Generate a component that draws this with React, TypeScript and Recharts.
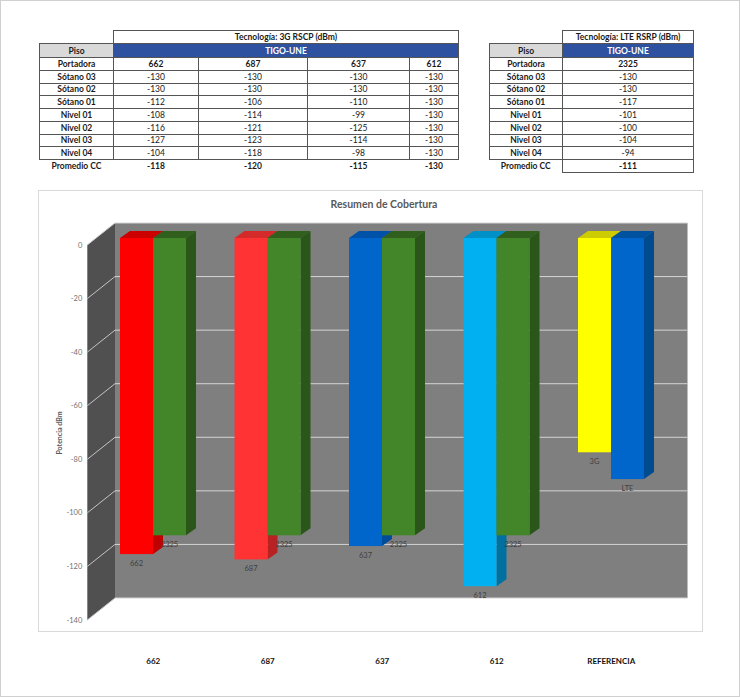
import React from 'react';
import { BarChart, Bar, XAxis, YAxis, ReferenceArea } from 'recharts';

// ---------- table data ----------
const pisos = ['Sótano 03', 'Sótano 02', 'Sótano 01', 'Nivel 01', 'Nivel 02', 'Nivel 03', 'Nivel 04'];
const portadoras3G = ['662', '687', '637', '612'];
const rscp662 = [-130, -130, -112, -108, -116, -127, -104];
const rscp687 = [-130, -130, -106, -114, -121, -123, -118];
const rscp637 = [-130, -130, -110, -99, -125, -114, -98];
const rscp612 = [-130, -130, -130, -130, -130, -130, -130];
const promedio3G = [-118, -120, -115, -130];
const portadorasLTE = ['2325'];
const rsrp2325 = [-130, -130, -117, -101, -100, -104, -94];
const promedioLTE = [-111];

// ---------- chart data ----------
const categories = ['662', '687', '637', '612', 'REFERENCIA'];
const serie3G = [-118, -120, -115, -130, -80];
const serieLTE = [-111, -111, -111, -111, -90];
const labels3G = ['662', '687', '637', '612', '3G'];
const labelsLTE = ['2325', '2325', '2325', '2325', 'LTE'];
const yTicks = [0, -20, -40, -60, -80, -100, -120, -140];
const Y_MIN = -140;
const Y_MAX = 0;

const chartData = categories.map((c, i) => ({ cat: c, g3: serie3G[i], lte: serieLTE[i] }));

// ---------- styles ----------
const front3G = ['#ff0000', '#ff3333', '#0066cc', '#00b0f0', '#ffff00'];
const top3G = ['#cc0000', '#d42a2a', '#0052a8', '#0090c8', '#cccc00'];
const side3G = ['#bf0000', '#b82222', '#004c99', '#0070a0', '#bfbf00'];
const frontLTE = ['#43862a', '#43862a', '#43862a', '#43862a', '#0066cc'];
const topLTE = ['#305f1e', '#305f1e', '#305f1e', '#305f1e', '#00529f'];
const sideLTE = ['#2b561a', '#2b561a', '#2b561a', '#2b561a', '#004a8f'];

const FONT = "Lato, 'Liberation Sans', sans-serif";
const BACK_DX = 19;
const BACK_DY = -15;
const FRONT_DX = -8.7;
const FRONT_DY = 7;
const DEPTH_X = 10;
const DEPTH_Y = 7;

function Walls(props: any) {
  const { x, y, width, height } = props;
  const bx = x + BACK_DX;
  const by = y + BACK_DY;
  const fx = x + FRONT_DX;
  const fy = y + FRONT_DY;
  return (
    <g>
      <rect x={bx} y={by} width={width} height={height} fill="#7f7f7f" />
      <polygon
        points={`${fx},${fy} ${bx},${by} ${bx},${by + height} ${fx},${fy + height}`}
        fill="#505050"
      />
      {yTicks.map((t) => {
        const off = (height * (Y_MAX - t)) / (Y_MAX - Y_MIN);
        return (
          <g key={t}>
            <line x1={fx} y1={fy + off} x2={bx} y2={by + off} stroke="#c4c4c4" strokeWidth={1} />
            <line x1={bx} y1={by + off} x2={bx + width} y2={by + off} stroke="#d4d4d4" strokeWidth={1} />
          </g>
        );
      })}
    </g>
  );
}

function make3DBar(front: string[], top: string[], side: string[], labels: string[]) {
  return (props: any) => {
    const { x, y, width, height, index } = props;
    const t = Math.min(y, y + height);
    const h = Math.abs(height);
    const b = t + h;
    const r = x + width;
    return (
      <g>
        <polygon
          points={`${x},${t} ${x + DEPTH_X},${t - DEPTH_Y} ${r + DEPTH_X},${t - DEPTH_Y} ${r},${t}`}
          fill={top[index]}
        />
        <polygon
          points={`${r},${t} ${r + DEPTH_X},${t - DEPTH_Y} ${r + DEPTH_X},${b - DEPTH_Y} ${r},${b}`}
          fill={side[index]}
        />
        <rect x={x} y={t} width={width} height={h} fill={front[index]} />
        <text
          x={x + width / 2}
          y={b + 9}
          textAnchor="middle"
          dominantBaseline="central"
          fontSize={7.5}
          fontFamily={FONT}
          fill="#404040"
        >
          {labels[index]}
        </text>
      </g>
    );
  };
}

const Bar3G = make3DBar(front3G, top3G, side3G, labels3G);
const BarLTE = make3DBar(frontLTE, topLTE, sideLTE, labelsLTE);

function YTick(props: any) {
  const { x, y, payload } = props;
  return (
    <text
      x={x + FRONT_DX - 5}
      y={y + FRONT_DY}
      textAnchor="end"
      dominantBaseline="central"
      fontSize={7.5}
      fontFamily={FONT}
      fill="#737373"
    >
      {payload.value}
    </text>
  );
}

function XTick(props: any) {
  const { x, y, payload } = props;
  return (
    <text
      x={x}
      y={y + 48}
      textAnchor="middle"
      dominantBaseline="central"
      fontSize={8}
      fontWeight={700}
      fontFamily={FONT}
      fill="#111"
    >
      {payload.value}
    </text>
  );
}

// ---------- tables ----------
const BORDER = '1px solid #555';
const cell: React.CSSProperties = {
  border: BORDER,
  padding: 0,
  textAlign: 'center',
  verticalAlign: 'middle',
  fontSize: 8.5,
  lineHeight: '10px',
  whiteSpace: 'nowrap',
  overflow: 'hidden',
  color: '#1a1a1a',
};

function DataTable(props: {
  left: number;
  colWidths: number[];
  title: string;
  carriers: string[];
  columns: number[][];
  averages: number[];
  avgBordered: boolean;
}) {
  const { left, colWidths, title, carriers, columns, averages, avgBordered } = props;
  const n = carriers.length;
  return (
    <table
      style={{
        position: 'absolute',
        left,
        top: 30,
        borderCollapse: 'collapse',
        tableLayout: 'fixed',
        fontFamily: FONT,
      }}
    >
      <colgroup>
        {colWidths.map((w, i) => (
          <col key={i} style={{ width: w }} />
        ))}
      </colgroup>
      <tbody>
        <tr style={{ height: 13 }}>
          <td style={{ ...cell, border: 'none' }}></td>
          <td colSpan={n} style={{ ...cell, fontWeight: 700 }}>
            {title}
          </td>
        </tr>
        <tr style={{ height: 14 }}>
          <td style={{ ...cell, fontWeight: 700, background: '#d9d9d9' }}>Piso</td>
          <td colSpan={n} style={{ ...cell, fontWeight: 700, background: '#2f52a0', color: '#fff' }}>
            TIGO-UNE
          </td>
        </tr>
        <tr style={{ height: 12.75 }}>
          <td style={{ ...cell, fontWeight: 700 }}>Portadora</td>
          {carriers.map((c) => (
            <td key={c} style={{ ...cell, fontWeight: 700 }}>
              {c}
            </td>
          ))}
        </tr>
        {pisos.map((p, r) => (
          <tr key={p} style={{ height: 12.75 }}>
            <td style={{ ...cell, fontWeight: 700 }}>{p}</td>
            {columns.map((col, c) => (
              <td key={c} style={cell}>
                {col[r]}
              </td>
            ))}
          </tr>
        ))}
        <tr style={{ height: 12.75 }}>
          <td style={{ ...cell, fontWeight: 700, border: 'none' }}>Promedio CC</td>
          {averages.map((a, c) => (
            <td
              key={c}
              style={{
                ...cell,
                fontWeight: 700,
                border: avgBordered ? BORDER : 'none',
              }}
            >
              {a}
            </td>
          ))}
        </tr>
      </tbody>
    </table>
  );
}

export default function App() {
  return (
    <div
      style={{
        position: 'absolute',
        left: 0,
        top: 0,
        width: 740,
        height: 697,
        background: '#fff',
        fontFamily: FONT,
        overflow: 'hidden',
      }}
    >
      <div
        style={{
          position: 'absolute',
          left: 0,
          top: 0,
          width: 740,
          height: 697,
          boxSizing: 'border-box',
          border: '1px solid #d0d0d0',
        }}
      />
      <DataTable
        left={39}
        colWidths={[74, 85, 109, 102, 49]}
        title="Tecnología: 3G RSCP (dBm)"
        carriers={portadoras3G}
        columns={[rscp662, rscp687, rscp637, rscp612]}
        averages={promedio3G}
        avgBordered={false}
      />
      <DataTable
        left={489}
        colWidths={[73, 131]}
        title="Tecnología: LTE RSRP (dBm)"
        carriers={portadorasLTE}
        columns={[rsrp2325]}
        averages={promedioLTE}
        avgBordered={true}
      />
      <div
        style={{
          position: 'absolute',
          left: 38,
          top: 190,
          width: 665,
          height: 442,
          boxSizing: 'border-box',
          border: '1px solid #d9d9d9',
          background: '#fff',
        }}
      />
      <div style={{ position: 'absolute', left: 0, top: 0 }}>
        <BarChart
          width={740}
          height={697}
          data={chartData}
          margin={{ top: 238, right: 71.5, bottom: 64, left: 56 }}
          barGap={0}
          barSize={33}
        >
          <XAxis
            dataKey="cat"
            axisLine={false}
            tickLine={false}
            tickSize={0}
            tickMargin={0}
            height={20}
            tick={<XTick />}
            interval={0}
          />
          <YAxis
            domain={[Y_MIN, Y_MAX]}
            ticks={yTicks}
            axisLine={false}
            tickLine={false}
            tickSize={0}
            tickMargin={0}
            width={40}
            tick={<YTick />}
            interval={0}
          />
          <ReferenceArea
            y1={Y_MIN}
            y2={Y_MAX}
            ifOverflow="visible"
            shape={Walls}
            zIndex={-100}
          />
          <Bar dataKey="g3" isAnimationActive={false} shape={Bar3G} />
          <Bar dataKey="lte" isAnimationActive={false} shape={BarLTE} />
        </BarChart>
      </div>
      <div
        style={{
          position: 'absolute',
          left: 284,
          width: 200,
          top: 197,
          textAlign: 'center',
          fontSize: 10.5,
          fontWeight: 700,
          color: '#595959',
          lineHeight: '14px',
        }}
      >
        Resumen de Cobertura
      </div>
      <div
        style={{
          position: 'absolute',
          left: 59,
          top: 433,
          transform: 'translate(-50%, -50%) rotate(-90deg)',
          fontSize: 7,
          fontWeight: 700,
          color: '#595959',
          whiteSpace: 'nowrap',
          lineHeight: '9px',
        }}
      >
        Potencia dBm
      </div>
    </div>
  );
}
